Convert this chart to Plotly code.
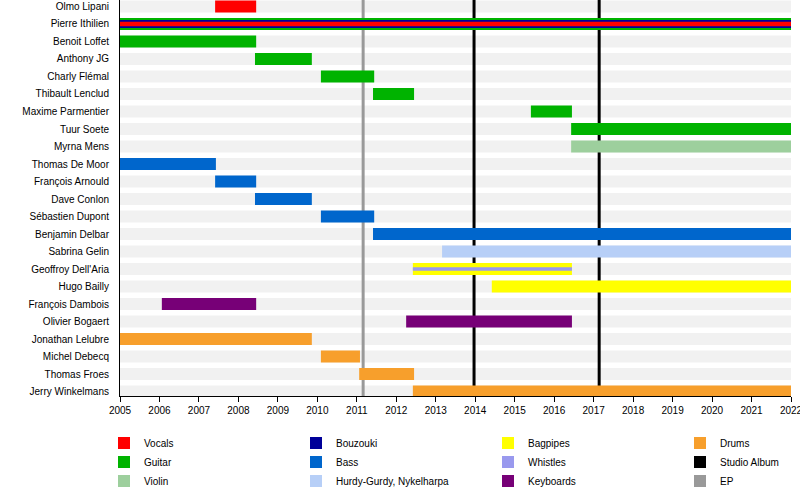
import plotly.graph_objects as go

members = ["Olmo Lipani", "Pierre Ithilien", "Benoit Loffet", "Anthony JG", "Charly Flémal",
           "Thibault Lenclud", "Maxime Parmentier", "Tuur Soete", "Myrna Mens", "Thomas De Moor",
           "François Arnould", "Dave Conlon", "Sébastien Dupont", "Benjamin Delbar", "Sabrina Gelin",
           "Geoffroy Dell'Aria", "Hugo Bailly", "François Dambois", "Olivier Bogaert",
           "Jonathan Lelubre", "Michel Debecq", "Thomas Froes", "Jerry Winkelmans"]

year_start = 2005
year_end = 2022

# instrument spans (member, start, end)
guitar_members = ["Pierre Ithilien", "Benoit Loffet", "Anthony JG", "Charly Flémal", "Thibault Lenclud",
                  "Maxime Parmentier", "Tuur Soete"]
guitar_start = [2005.0, 2005.0, 2008.42, 2010.09, 2011.41, 2015.41, 2016.43]
guitar_end = [2022.0, 2008.45, 2009.86, 2011.44, 2012.45, 2016.45, 2022.0]

bouzouki_members = ["Pierre Ithilien"]
bouzouki_start = [2005.0]
bouzouki_end = [2022.0]

vocals_members = ["Olmo Lipani", "Pierre Ithilien"]
vocals_start = [2007.41, 2005.0]
vocals_end = [2008.45, 2022.0]

violin_members = ["Myrna Mens"]
violin_start = [2016.43]
violin_end = [2022.0]

bass_members = ["Thomas De Moor", "François Arnould", "Dave Conlon", "Sébastien Dupont", "Benjamin Delbar"]
bass_start = [2005.0, 2007.41, 2008.42, 2010.09, 2011.41]
bass_end = [2007.43, 2008.45, 2009.86, 2011.44, 2022.0]

hurdy_members = ["Sabrina Gelin"]
hurdy_start = [2013.16]
hurdy_end = [2022.0]

bagpipes_members = ["Geoffroy Dell'Aria", "Hugo Bailly"]
bagpipes_start = [2012.42, 2014.42]
bagpipes_end = [2016.45, 2022.0]

whistles_members = ["Geoffroy Dell'Aria"]
whistles_start = [2012.42]
whistles_end = [2016.45]

keyboards_members = ["François Dambois", "Olivier Bogaert"]
keyboards_start = [2006.06, 2012.25]
keyboards_end = [2008.45, 2016.45]

drums_members = ["Jonathan Lelubre", "Michel Debecq", "Thomas Froes", "Jerry Winkelmans"]
drums_start = [2005.0, 2010.09, 2011.06, 2012.42]
drums_end = [2009.86, 2011.08, 2012.45, 2022.0]

studio_albums = [2013.97, 2017.14]
eps = [2011.16]

FULL = 0.686
thin_widths = {
    "Bouzouki": {"Pierre Ithilien": 0.46},
    "Vocals": {"Pierre Ithilien": 0.25},
    "Whistles": {"Geoffroy Dell'Aria": 0.2},
}

colors = {
    "Vocals": "#ff0000", "Guitar": "#00b300", "Violin": "#9dcf9d",
    "Bouzouki": "#000099", "Bass": "#0066cc", "Hurdy-Gurdy, Nykelharpa": "#b7cff7",
    "Bagpipes": "#ffff00", "Whistles": "#9999ee", "Keyboards": "#770077",
    "Drums": "#f79f2c", "Studio Album": "#000000", "EP": "#999999",
}

# legend column per entry (4 columns, 3 rows)
legend_col = {
    "Vocals": "legend", "Guitar": "legend", "Violin": "legend",
    "Bouzouki": "legend2", "Bass": "legend2", "Hurdy-Gurdy, Nykelharpa": "legend2",
    "Bagpipes": "legend3", "Whistles": "legend3", "Keyboards": "legend3",
    "Drums": "legend4", "Studio Album": "legend4", "EP": "legend4",
}
legend_rank = {
    "Vocals": 1, "Guitar": 2, "Violin": 3,
    "Bouzouki": 1, "Bass": 2, "Hurdy-Gurdy, Nykelharpa": 3,
    "Bagpipes": 1, "Whistles": 2, "Keyboards": 3,
    "Drums": 1, "Studio Album": 2, "EP": 3,
}

# draw order (bottom to top)
layers = [
    ("Guitar", guitar_members, guitar_start, guitar_end),
    ("Bouzouki", bouzouki_members, bouzouki_start, bouzouki_end),
    ("Vocals", vocals_members, vocals_start, vocals_end),
    ("Violin", violin_members, violin_start, violin_end),
    ("Bass", bass_members, bass_start, bass_end),
    ("Hurdy-Gurdy, Nykelharpa", hurdy_members, hurdy_start, hurdy_end),
    ("Bagpipes", bagpipes_members, bagpipes_start, bagpipes_end),
    ("Whistles", whistles_members, whistles_start, whistles_end),
    ("Keyboards", keyboards_members, keyboards_start, keyboards_end),
    ("Drums", drums_members, drums_start, drums_end),
]

fig = go.Figure()

for name, mem, st, en in layers:
    widths = [thin_widths.get(name, {}).get(m, FULL) for m in mem]
    fig.add_trace(go.Bar(
        name=name, y=mem, base=st, x=[e - s for s, e in zip(st, en)],
        orientation="h", width=widths, marker=dict(color=colors[name], line=dict(width=0)),
        legend=legend_col[name], legendrank=legend_rank[name], hoverinfo="skip",
    ))

# legend-only entries for release markers
for name in ["Studio Album", "EP"]:
    fig.add_trace(go.Bar(
        name=name, y=[None], x=[None], orientation="h",
        marker=dict(color=colors[name], line=dict(width=0)),
        legend=legend_col[name], legendrank=legend_rank[name],
    ))

Y_TOP = -0.371
Y_BOT = 22.257

# grey background rows
for i, m in enumerate(members):
    fig.add_shape(type="rect", xref="x", yref="y", layer="below",
                  x0=year_start, x1=year_end, y0=i - FULL / 2, y1=i + FULL / 2,
                  fillcolor="#f1f1f1", line=dict(width=0))

# release lines (drawn above the grey rows, below the bars)
for x in eps:
    fig.add_shape(type="line", xref="x", yref="y", layer="below",
                  x0=x, x1=x, y0=Y_BOT, y1=Y_TOP, line=dict(color=colors["EP"], width=3))
for x in studio_albums:
    fig.add_shape(type="line", xref="x", yref="y", layer="below",
                  x0=x, x1=x, y0=Y_BOT, y1=Y_TOP, line=dict(color=colors["Studio Album"], width=3))

PLOT_L, PLOT_R = 120, 791
PLOT_B = 396
PW = PLOT_R - PLOT_L


def lx(px):
    return (px - PLOT_L) / PW


leg_common = dict(orientation="v", xanchor="left", yanchor="top", y=-(428.5 - PLOT_B) / PLOT_B,
                  font=dict(size=10), itemwidth=30, tracegroupgap=0,
                  bgcolor="rgba(0,0,0,0)", traceorder="normal")

fig.update_layout(
    width=800, height=496,
    margin=dict(l=PLOT_L, r=800 - PLOT_R, t=0, b=496 - PLOT_B),
    paper_bgcolor="white", plot_bgcolor="white",
    barmode="overlay",
    font=dict(family="Liberation Sans, Arial, sans-serif", size=10, color="black"),
    showlegend=True,
    legend=dict(x=lx(104), **leg_common),
    legend2=dict(x=lx(296), **leg_common),
    legend3=dict(x=lx(488), **leg_common),
    legend4=dict(x=lx(680), **leg_common),
    xaxis=dict(range=[year_start, year_end], dtick=1, tick0=year_start, tickformat="d",
               showline=True, linecolor="black", linewidth=1,
               ticks="outside", ticklen=5, tickcolor="black", tickwidth=1,
               showgrid=False, zeroline=False, automargin=False,
               ticklabeloverflow="allow", tickfont=dict(size=10)),
    yaxis=dict(type="category", categoryorder="array", categoryarray=members,
               tickmode="array", tickvals=members, ticktext=members,
               range=[Y_BOT, Y_TOP], autorange=False,
               showline=True, linecolor="black", linewidth=1,
               ticks="", showgrid=False, zeroline=False, automargin=False,
               ticklabelstandoff=8, tickfont=dict(size=10)),
)

fig.write_html("out.html", config={"displayModeBar": False},
               post_script="document.body.style.margin='0';")
